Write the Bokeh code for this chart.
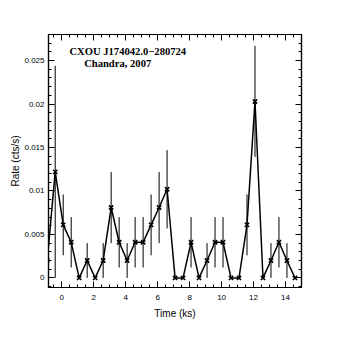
from bokeh.plotting import figure
from bokeh.models import Range1d, FixedTicker, LinearAxis, Label, ColumnDataSource
from bokeh.embed import file_html
from bokeh.resources import INLINE

# ---- data ----
times = [-0.91, -0.41, 0.09, 0.59, 1.09, 1.59, 2.09, 2.59, 3.09, 3.59, 4.09,
         4.59, 5.09, 5.59, 6.09, 6.59, 7.09, 7.59, 8.09, 8.59, 9.09, 9.59,
         10.09, 10.59, 11.09, 11.59, 12.09, 12.59, 13.09, 13.59, 14.09, 14.59]
rates = [0.0020, 0.0122, 0.0061, 0.0041, 0.0, 0.0020, 0.0, 0.0020, 0.0081, 0.0041, 0.0020,
         0.0041, 0.0041, 0.0061, 0.0081, 0.0102, 0.0, 0.0, 0.0041, 0.0, 0.0020, 0.0041,
         0.0041, 0.0, 0.0, 0.0061, 0.0203, 0.0, 0.0020, 0.0041, 0.0020, 0.0]
errors = [0.0020, 0.0122, 0.0035, 0.0029, 0.0, 0.0020, 0.0, 0.0020, 0.0041, 0.0029, 0.0020,
          0.0029, 0.0029, 0.0035, 0.0041, 0.0045, 0.0, 0.0, 0.0029, 0.0, 0.0020, 0.0029,
          0.0029, 0.0, 0.0, 0.0035, 0.0064, 0.0, 0.0020, 0.0029, 0.0020, 0.0]

x_ticks = [0, 2, 4, 6, 8, 10, 12, 14]
x_tick_labels = ["0", "2", "4", "6", "8", "10", "12", "14"]
x_minor = [-0.5, 0.5, 1, 1.5, 2.5, 3, 3.5, 4.5, 5, 5.5, 6.5, 7, 7.5, 8.5, 9, 9.5,
           10.5, 11, 11.5, 12.5, 13, 13.5, 14.5]
y_ticks = [0, 0.005, 0.01, 0.015, 0.02, 0.025]
y_tick_labels = ["0", "0.005", "0.01", "0.015", "0.02", "0.025"]
y_minor = [-0.001, 0.001, 0.002, 0.003, 0.004, 0.006, 0.007, 0.008, 0.009, 0.011, 0.012,
           0.013, 0.014, 0.016, 0.017, 0.018, 0.019, 0.021, 0.022, 0.023, 0.024,
           0.026, 0.027]
title_lines = ["CXOU J174042.0\u2212280724", "Chandra, 2007"]
x_label = "Time (ks)"
y_label = "Rate (cts/s)"

src = ColumnDataSource(dict(
    t=times, r=rates,
    lo=[r - e for r, e in zip(rates, errors)],
    hi=[r + e for r, e in zip(rates, errors)],
))

p = figure(frame_width=253, frame_height=253, output_backend="svg", toolbar_location=None,
           x_range=Range1d(-0.83, 15.0), y_range=Range1d(-0.0011, 0.028),
           min_border_left=48, min_border_right=20, min_border_top=34,
           min_border_bottom=38, title=None)
p.background_fill_color = "white"
p.border_fill_color = "white"
p.outline_line_color = "black"
p.outline_line_width = 1.2
p.xgrid.visible = False
p.ygrid.visible = False

p.segment(x0="t", y0="lo", x1="t", y1="hi", source=src, line_color="black", line_width=1)
p.line(x="t", y="r", source=src, line_color="black", line_width=1.5)
p.scatter(x="t", y="r", source=src, marker="x", size=6, line_color="black", line_width=1.6)

def style_axis(ax):
    ax.axis_line_color = "black"
    ax.axis_line_width = 1.2
    ax.major_tick_in = 6
    ax.major_tick_out = 0
    ax.minor_tick_in = 3
    ax.minor_tick_out = 0
    ax.major_tick_line_color = "black"
    ax.minor_tick_line_color = "black"
    ax.major_label_text_font = "Liberation Sans"
    ax.major_label_text_font_size = "8px"
    ax.major_label_text_color = "black"
    ax.axis_label_text_font = "Liberation Sans"
    ax.axis_label_text_font_size = "10px"
    ax.axis_label_text_font_style = "normal"
    ax.axis_label_text_color = "black"

xa = p.xaxis[0]
xa.ticker = FixedTicker(ticks=x_ticks, minor_ticks=x_minor)
xa.axis_label = x_label
xa.major_label_overrides = dict(zip(x_ticks, x_tick_labels))
xa.major_label_standoff = 7
xa.axis_label_standoff = 5
style_axis(xa)

ya = p.yaxis[0]
ya.ticker = FixedTicker(ticks=y_ticks, minor_ticks=y_minor)
ya.axis_label = y_label
ya.major_label_overrides = dict(zip(y_ticks, y_tick_labels))
ya.major_label_standoff = 4
ya.axis_label_standoff = 0
style_axis(ya)

ra = LinearAxis(ticker=FixedTicker(ticks=y_ticks, minor_ticks=y_minor))
style_axis(ra)
ra.major_label_overrides = {t: "" for t in y_ticks}
ra.major_label_standoff = 0
p.add_layout(ra, "right")
ta = LinearAxis(ticker=FixedTicker(ticks=x_ticks, minor_ticks=x_minor))
style_axis(ta)
ta.major_label_overrides = {t: "" for t in x_ticks}
ta.major_label_standoff = 0
p.add_layout(ta, "above")

p.add_layout(Label(x=0.48, y=0.0261, text=title_lines[0], text_font="Liberation Serif",
                   text_font_style="bold", text_font_size="10.6px", text_baseline="middle",
                   text_align="left", text_color="black"))
p.add_layout(Label(x=1.4, y=0.02465, text=title_lines[1], text_font="Liberation Serif",
                   text_font_style="bold", text_font_size="10.6px", text_baseline="middle",
                   text_align="left", text_color="black"))

open("out.html", "w").write(file_html(p, INLINE))
